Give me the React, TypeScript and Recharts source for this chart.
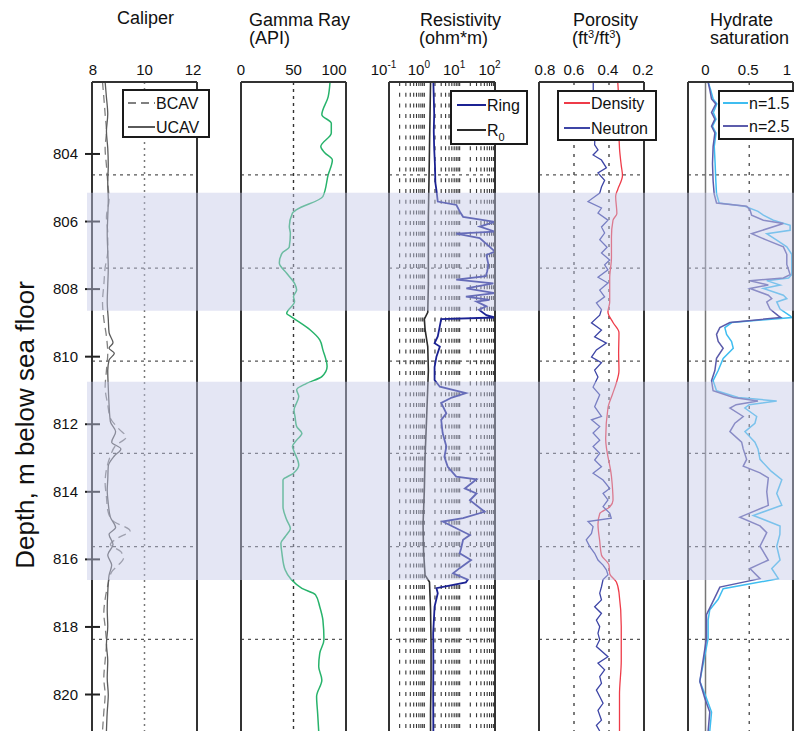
import React from 'react';
import { LineChart, Line, XAxis, YAxis, ReferenceLine, ReferenceArea, Legend } from 'recharts';

// ---------------- data ----------------
const depthTicks = [804, 806, 808, 810, 812, 814, 816, 818, 820];
const gridDepths = [804.62, 807.38, 810.13, 812.86, 815.62, 818.37];
const bandTop = [805.15, 810.74];
const bandBottom = [808.64, 816.61];

const caliperTicks = [8, 10, 12];
const gammaTicks = [0, 50, 100];
const resTicks = [0.1, 1, 10, 100];
const porTicks = [0.8, 0.6, 0.4, 0.2];
const hydTicks = [0, 0.5, 1];

const resMinorGrid = [0.2, 0.3, 0.4, 0.5, 0.6, 0.7, 0.8, 0.9, 1, 2, 3, 4, 5, 6, 7, 8, 9, 10, 20, 30, 40, 50, 60, 70, 80, 90];

// [depth m, value]
const bcav = [[801.87,8.4],[802.32,8.45],[802.82,8.5],[803.33,8.55],[803.83,8.5],[804.34,8.55],[804.85,8.6],[805.35,8.65],[805.86,8.55],[806.36,8.6],[806.87,8.6],[807.37,8.5],[807.88,8.45],[808.38,8.4],[808.89,8.45],[809.4,8.55],[809.9,8.6],[810.41,8.55],[810.91,8.5],[811.42,8.6],[811.82,8.7],[812.12,9.0],[812.38,9.3],[812.63,8.9],[812.94,8.7],[813.34,8.55],[813.74,8.5],[814.15,8.55],[814.55,8.6],[814.86,8.8],[815.16,9.45],[815.36,9.0],[815.56,8.7],[815.77,9.1],[815.97,9.2],[816.17,9.0],[816.37,8.75],[816.78,8.6],[817.18,8.5],[817.59,8.45],[817.99,8.5],[818.5,8.55],[819.0,8.5],[819.51,8.45],[820.01,8.5],[820.52,8.45],[821.08,8.4]];
const ucav = [[801.87,8.5],[802.32,8.55],[802.82,8.6],[803.33,8.55],[803.83,8.6],[804.34,8.62],[804.85,8.6],[805.35,8.62],[805.86,8.6],[806.36,8.58],[806.87,8.6],[807.37,8.62],[807.88,8.6],[808.38,8.58],[808.89,8.62],[809.29,8.65],[809.59,8.8],[809.75,8.65],[809.9,8.85],[810.1,8.65],[810.41,8.6],[810.91,8.62],[811.42,8.65],[811.92,8.7],[812.22,8.9],[812.53,8.75],[812.73,9.1],[812.94,8.85],[813.24,8.62],[813.64,8.6],[813.95,8.58],[814.35,8.62],[814.75,8.7],[815.06,8.9],[815.26,8.65],[815.56,8.8],[815.87,8.6],[816.17,8.75],[816.47,8.65],[816.98,8.6],[817.49,8.58],[817.99,8.6],[818.5,8.55],[819.0,8.6],[819.51,8.58],[820.01,8.62],[820.52,8.58],[821.08,8.55]];

const gammaRay = [[801.87,84.8],[802.31,83],[802.84,77],[803.09,86],[803.38,86],[803.78,76],[803.97,80],[804.18,87],[804.62,83],[805.26,78],[805.65,53],[805.75,49],[806.15,46],[806.35,47],[806.75,46],[806.94,39],[807.23,36.5],[807.53,43.5],[807.83,51],[808.03,53],[808.22,50],[808.37,51],[808.72,43.5],[808.82,48],[809.21,66],[809.5,75],[809.8,78],[810.29,82],[810.59,77],[810.79,62.5],[810.98,53],[811.18,55],[811.58,50.5],[811.77,51.4],[812.07,53],[812.27,58],[812.47,53],[812.66,49],[812.76,50],[813.21,55],[813.45,50],[813.65,40],[814.44,40],[814.83,43.5],[815.08,47],[815.33,42],[815.52,38],[815.82,39],[816.31,42],[816.6,48],[816.86,58],[817.05,71],[817.4,75],[817.8,78],[818.38,79],[818.78,75],[819.17,74],[819.57,77],[820.06,72],[820.56,73],[821.08,74]];

const ring = [[801.87,1.8],[802.32,1.85],[802.82,1.9],[803.33,1.85],[803.83,1.9],[804.34,2.0],[804.85,2.05],[805.07,2.2],[805.41,2.4],[805.51,8.1],[805.7,10],[805.86,12.5],[806.01,100],[806.15,37],[806.3,100],[806.36,8],[806.49,37],[806.75,71],[806.89,100],[806.99,57],[807.27,65],[807.47,60],[807.62,55],[807.72,8],[807.83,90],[807.98,15.5],[808.12,100],[808.22,15],[808.32,70],[808.37,30],[808.51,57],[808.61,35],[808.77,57],[808.84,100],[808.89,3.0],[809.09,2.75],[809.4,2.4],[809.6,1.95],[809.7,2.75],[810.0,2.2],[810.31,1.95],[810.69,1.95],[810.89,2.75],[811.08,15],[811.21,6],[811.37,3],[811.68,4.2],[811.87,3],[812.26,3.3],[812.66,4.2],[812.97,3.7],[813.26,4.6],[813.55,8],[813.63,30],[813.9,14],[814.05,30],[814.25,19.5],[814.59,51],[814.78,12.5],[814.88,3.3],[815.08,8],[815.28,19.5],[815.42,12.5],[815.67,11],[815.82,10],[816.02,21],[816.26,10],[816.41,6.5],[816.6,17],[816.68,15],[816.85,2.2],[817.0,2.4],[817.4,1.95],[818.19,1.78],[819.0,1.8],[820.01,1.78],[821.08,1.8]];
const r0 = [[801.87,1.5],[802.82,1.45],[803.83,1.4],[804.85,1.35],[805.86,1.3],[806.87,1.3],[807.88,1.3],[808.69,1.25],[808.89,1.0],[809.19,1.05],[809.7,1.25],[810.41,1.3],[810.91,1.25],[811.92,1.15],[812.94,1.05],[813.95,1.0],[814.96,0.92],[815.76,0.95],[816.47,1.05],[816.67,1.4],[817.49,1.5],[818.5,1.55],[819.51,1.55],[820.52,1.5],[821.08,1.5]];

const density = [[801.87,0.35],[802.32,0.345],[802.82,0.343],[803.33,0.343],[803.83,0.34],[804.34,0.33],[804.64,0.323],[805.05,0.35],[805.25,0.362],[805.76,0.355],[805.96,0.377],[806.46,0.386],[807.07,0.386],[807.67,0.396],[808.38,0.396],[808.68,0.406],[808.99,0.377],[809.29,0.343],[809.9,0.345],[810.41,0.343],[810.81,0.36],[811.11,0.38],[811.52,0.406],[812.43,0.419],[813.54,0.386],[814.25,0.377],[814.45,0.396],[814.65,0.453],[814.96,0.463],[815.46,0.453],[815.87,0.443],[816.17,0.4],[816.42,0.396],[816.67,0.358],[816.98,0.343],[817.99,0.33],[819.0,0.33],[820.01,0.34],[821.08,0.34]];
const neutron = [[801.87,0.49],[802.12,0.49],[802.42,0.47],[802.72,0.49],[803.03,0.46],[803.33,0.48],[803.73,0.482],[803.88,0.463],[804.03,0.491],[804.18,0.443],[804.41,0.415],[804.56,0.463],[804.78,0.425],[804.98,0.443],[805.16,0.453],[805.41,0.52],[805.6,0.443],[805.75,0.463],[805.96,0.406],[806.16,0.443],[806.34,0.425],[806.54,0.453],[806.76,0.411],[806.93,0.443],[807.14,0.396],[807.28,0.425],[807.43,0.406],[807.65,0.463],[807.82,0.406],[808.03,0.453],[808.23,0.425],[808.41,0.472],[808.61,0.443],[808.77,0.453],[809.0,0.5],[809.21,0.443],[809.41,0.482],[809.6,0.415],[809.8,0.472],[810.01,0.5],[810.18,0.443],[810.4,0.482],[810.6,0.463],[810.9,0.491],[811.13,0.453],[811.48,0.482],[811.77,0.443],[811.87,0.5],[812.07,0.453],[812.26,0.491],[812.47,0.453],[812.66,0.491],[812.86,0.453],[813.06,0.482],[813.26,0.443],[813.45,0.491],[813.65,0.434],[813.9,0.396],[814.05,0.434],[814.24,0.406],[814.44,0.434],[814.63,0.396],[814.78,0.387],[814.88,0.52],[815.03,0.491],[815.23,0.5],[815.42,0.53],[815.62,0.51],[815.82,0.482],[816.02,0.463],[816.17,0.434],[816.31,0.415],[816.46,0.406],[816.6,0.434],[816.81,0.443],[817.0,0.453],[817.2,0.443],[817.4,0.482],[817.6,0.443],[817.8,0.472],[817.99,0.453],[818.19,0.463],[818.38,0.453],[818.58,0.472],[818.88,0.406],[819.07,0.463],[819.27,0.425],[819.47,0.453],[819.67,0.443],[819.87,0.472],[820.06,0.453],[820.26,0.434],[820.47,0.463],[820.76,0.443],[820.91,0.472],[821.08,0.453]];

const hydN15 = [[801.87,0.03],[802.11,0.06],[802.37,0.087],[802.52,0.13],[802.77,0.09],[802.97,0.12],[803.18,0.08],[803.38,0.12],[803.78,0.1],[804.29,0.11],[804.8,0.118],[805.18,0.126],[805.45,0.156],[805.55,0.45],[805.7,0.6],[805.81,0.661],[805.96,0.775],[806.11,0.967],[806.26,0.967],[806.36,0.7],[806.55,0.814],[806.75,0.929],[806.97,0.986],[807.27,0.986],[807.57,0.986],[807.67,0.95],[807.75,0.7],[807.88,0.852],[807.98,0.661],[808.18,0.89],[808.28,0.929],[808.38,0.814],[808.59,0.852],[808.79,0.967],[808.84,0.986],[808.99,0.3],[809.14,0.221],[809.34,0.241],[809.55,0.298],[809.75,0.317],[810.05,0.202],[810.41,0.145],[810.71,0.087],[811.01,0.126],[811.21,0.374],[811.31,0.814],[811.42,0.5],[811.52,0.45],[811.77,0.585],[811.97,0.565],[812.22,0.451],[812.53,0.565],[812.73,0.6],[813.04,0.623],[813.39,0.75],[813.64,0.872],[814.05,0.814],[814.4,0.872],[814.7,0.546],[815.01,0.852],[815.26,0.85],[815.61,0.814],[816.02,0.852],[816.27,0.757],[816.57,0.833],[816.87,0.202],[817.18,0.145],[817.49,0.049],[817.79,0.03],[818.34,0.03],[819.61,-0.065],[820.11,0.011],[820.52,0.069],[821.08,0.049]];
const hydN25 = [[801.87,0.03],[802.11,0.05],[802.37,0.069],[802.52,0.118],[802.77,0.069],[802.97,0.107],[803.18,0.069],[803.38,0.107],[803.78,0.087],[804.29,0.08],[804.8,0.087],[805.18,0.099],[805.45,0.126],[805.55,0.47],[805.65,0.508],[805.81,0.527],[805.96,0.661],[806.06,0.89],[806.36,0.527],[806.55,0.7],[806.75,0.89],[806.97,0.929],[807.27,0.929],[807.57,0.967],[807.67,0.89],[807.75,0.508],[807.88,0.718],[807.98,0.508],[808.18,0.718],[808.28,0.757],[808.38,0.7],[808.59,0.737],[808.79,0.833],[808.84,0.86],[808.99,0.279],[809.14,0.164],[809.34,0.126],[809.55,0.145],[809.75,0.202],[810.05,0.126],[810.41,0.107],[810.71,0.069],[811.01,0.087],[811.21,0.32],[811.31,0.6],[811.42,0.35],[811.52,0.28],[811.77,0.431],[811.97,0.336],[812.22,0.279],[812.53,0.413],[812.73,0.431],[813.04,0.47],[813.24,0.431],[813.44,0.623],[813.59,0.718],[814.0,0.7],[814.4,0.718],[814.75,0.393],[815.01,0.623],[815.21,0.7],[815.61,0.623],[816.02,0.718],[816.27,0.508],[816.57,0.623],[816.82,0.164],[817.03,0.126],[817.33,0.069],[817.64,0.011],[818.34,0.011],[819.61,-0.065],[820.11,-0.008],[820.52,0.049],[821.08,0.03]];

// ---------------- layout / style ----------------
const FONT = "'Liberation Sans', Arial, Helvetica, sans-serif";
const W = 794;
const H = 731;
const PLOT_TOP = 82;
const XAXIS_H = 30;
const DEPTH_DOMAIN: [number, number] = [801.87, 821.08];

const toRows = (arr: number[][]) => arr.map(([d, v]) => ({ depth: d, v }));
const bandRows = bandTop.map((t, i) => ({ depth: t, end: bandBottom[i], v: 0 }));

const TopTick = (props: any) => {
  const { x, y, payload, index, dxs, kind } = props;
  const v = payload.value;
  const dx = (dxs && dxs[index]) || 0;
  if (kind === 'log') {
    const e = Math.round(Math.log10(v));
    return (
      <text x={x + dx} y={y} textAnchor="middle" fontSize={15} fontFamily={FONT} fill="#111">
        <tspan>10</tspan>
        <tspan dy={-7} fontSize={10}>{String(e)}</tspan>
      </text>
    );
  }
  const label = kind === 'fixed1' ? v.toFixed(1) : String(v);
  return (
    <text x={x + dx} y={y} textAnchor="middle" fontSize={15} fontFamily={FONT} fill="#111">{label}</text>
  );
};

const DepthTick = (props: any) => {
  const { x, y, payload } = props;
  return (
    <g>
      <line x1={x - 7} x2={x + 8} y1={y} y2={y} stroke="#222" strokeWidth={2} />
      <text x={x - 14} y={y + 5} textAnchor="end" fontSize={15} fontFamily={FONT} fill="#111">{payload.value}</text>
    </g>
  );
};

type TitleLine = { text: React.ReactNode; x: number; y: number };
const makeTitle = (lines: TitleLine[]) => () => (
  <g>
    {lines.map((l, i) => (
      <text key={i} x={l.x} y={l.y} fontSize={18} fontFamily={FONT} fill="#111">{l.text}</text>
    ))}
  </g>
);

const legendName = (n: string) => {
  if (n === 'R0') return (<><tspan>R</tspan><tspan dy={5} fontSize={11}>0</tspan></>);
  return n;
};

const makeLegend = (w: number, h: number, rows: number[], lx0: number, lx1: number) => (props: any) => {
  const items = props.payload || [];
  return (
    <svg width={w} height={h} style={{ display: 'block', overflow: 'visible' }}>
      <rect x={1} y={1} width={w - 2} height={h - 2} fill="#fff" stroke="#1a1a1a" strokeWidth={2} />
      {items.map((e: any, i: number) => (
        <g key={i}>
          <line x1={lx0} x2={lx1} y1={rows[i]} y2={rows[i]} stroke={e.color} strokeWidth={2}
            strokeDasharray={e.payload && e.payload.strokeDasharray} />
          <text x={lx1 + 1} y={rows[i] + 6} fontSize={16} fontFamily={FONT} fill="#111">{legendName(String(e.value))}</text>
        </g>
      ))}
    </svg>
  );
};

type Series = { name: string; rows: { depth: number; v: number }[]; color: string; width: number; dash?: string; curve: 'linear' | 'monotone' };
type VLine = { v: number; stroke: string; dash?: string; width: number };
type LegendBox = { left: number; top: number; w: number; h: number; rows: number[]; lx0: number; lx1: number };

function Track(p: {
  left: number; right: number; domain: [number, number]; log?: boolean; reversed?: boolean;
  ticks: number[]; tickDx: number[]; kind: string; vLines: VLine[]; series: Series[];
  legend?: LegendBox; title: TitleLine[]; showDepth?: boolean;
}) {
  return (
    <div style={{ position: 'absolute', left: 0, top: 0 }}>
      <LineChart width={W} height={H} layout="vertical"
        margin={{ top: PLOT_TOP - XAXIS_H, left: p.showDepth ? 0 : p.left, right: W - p.right, bottom: 0 }}>
        <XAxis type="number" orientation="top" domain={p.domain} scale={p.log ? 'log' : 'auto'}
          reversed={!!p.reversed} allowDataOverflow ticks={p.ticks} interval={0} height={XAXIS_H}
          tickSize={0} tickMargin={7} tickLine={false} axisLine={{ stroke: '#333', strokeWidth: 2 }}
          tick={(tp: any) => <TopTick {...tp} dxs={p.tickDx} kind={p.kind} />}
          label={makeTitle(p.title)} />
        {p.showDepth ? (
          <YAxis type="number" dataKey="depth" domain={DEPTH_DOMAIN} allowDataOverflow ticks={depthTicks}
            interval={0} width={p.left} tickSize={0} tickMargin={0} axisLine={false} tickLine={false}
            tick={<DepthTick />}
            label={() => (
              <text transform="translate(34,425) rotate(-90)" textAnchor="middle" fontSize={26}
                fontFamily={FONT} fill="#111">Depth, m below sea floor</text>
            )} />
        ) : (
          <YAxis type="number" dataKey="depth" domain={DEPTH_DOMAIN} allowDataOverflow hide />
        )}
        {p.vLines.map((g, i) => (
          <ReferenceLine key={'vg' + i} x={g.v} stroke={g.stroke} strokeWidth={g.width} strokeDasharray={g.dash} />
        ))}
        {gridDepths.map((d) => (
          <ReferenceLine key={'hg' + d} y={d} stroke="#555" strokeWidth={1.2} strokeDasharray="3 4" />
        ))}
        {p.series.map((s) => (
          <Line key={s.name} name={s.name} data={s.rows} dataKey="v" type={s.curve} stroke={s.color}
            strokeWidth={s.width} strokeDasharray={s.dash} dot={false} activeDot={false}
            isAnimationActive={false} />
        ))}
        <ReferenceLine x={p.domain[0]} stroke="#333" strokeWidth={2} />
        <ReferenceLine x={p.domain[1]} stroke="#333" strokeWidth={2} />
        {p.legend ? (
          <Legend layout="horizontal" verticalAlign="middle" align="center" itemSorter={() => 0}
            wrapperStyle={{ left: p.legend.left, top: p.legend.top, width: p.legend.w, height: p.legend.h }}
            content={makeLegend(p.legend.w, p.legend.h, p.legend.rows, p.legend.lx0, p.legend.lx1)} />
        ) : null}
      </LineChart>
    </div>
  );
}

export default function App() {
  return (
    <div style={{ position: 'absolute', left: 0, top: 0, width: W, height: H, overflow: 'hidden', background: '#fff' }}>
      <Track left={92} right={197} domain={[8, 12]} ticks={caliperTicks} tickDx={[1, 0, -4]} kind="int"
        showDepth
        vLines={[{ v: 10, stroke: '#777', dash: '2 4', width: 1.5 }]}
        series={[
          { name: 'BCAV', rows: toRows(bcav), color: '#808080', width: 1.3, dash: '8 5', curve: 'monotone' },
          { name: 'UCAV', rows: toRows(ucav), color: '#5a5a5a', width: 1.3, curve: 'monotone' },
        ]}
        legend={{ left: 122, top: 89, w: 88, h: 49, rows: [14, 38], lx0: 6, lx1: 33 }}
        title={[{ text: 'Caliper', x: 117, y: 24 }]} />
      <Track left={241} right={346} domain={[0, 100]} ticks={gammaTicks} tickDx={[0, 0, -12]} kind="int"
        vLines={[{ v: 50, stroke: '#333', dash: '3 4', width: 1.4 }]}
        series={[{ name: 'GR', rows: toRows(gammaRay), color: '#27b36b', width: 1.5, curve: 'monotone' }]}
        title={[{ text: 'Gamma Ray', x: 249, y: 25.5 }, { text: '(API)', x: 249, y: 44 }]} />
      <Track left={389} right={495} domain={[0.1, 100]} log ticks={resTicks} tickDx={[-5.5, -5.5, -5.5, -5.5]} kind="log"
        vLines={resMinorGrid.map((v) => ({ v, stroke: '#333', dash: '4 6.7', width: 1.1 }))}
        series={[
          { name: 'Ring', rows: toRows(ring), color: '#1b2293', width: 1.8, curve: 'linear' },
          { name: 'R0', rows: toRows(r0), color: '#2b2b2b', width: 1.6, curve: 'linear' },
        ]}
        legend={{ left: 450, top: 90, w: 78, h: 55, rows: [15, 40], lx0: 7, lx1: 36 }}
        title={[{ text: 'Resistivity', x: 420, y: 25.5 }, { text: '(ohm*m)', x: 419, y: 44 }]} />
      <Track left={539} right={644} domain={[0.2, 0.8]} reversed ticks={porTicks} tickDx={[6, 0, -1, -1]} kind="fixed1"
        vLines={[{ v: 0.6, stroke: '#444', dash: '3 6', width: 1.4 }, { v: 0.4, stroke: '#444', dash: '3 6', width: 1.4 }]}
        series={[
          { name: 'Density', rows: toRows(density), color: '#ee3b48', width: 1.3, curve: 'monotone' },
          { name: 'Neutron', rows: toRows(neutron), color: '#3d45a6', width: 1.3, curve: 'linear' },
        ]}
        legend={{ left: 557, top: 90, w: 100, h: 51, rows: [13, 38], lx0: 7, lx1: 33 }}
        title={[
          { text: 'Porosity', x: 573, y: 25.5 },
          { text: (<>{'(ft'}<tspan baselineShift="super" fontSize={11}>3</tspan>{'/ft'}<tspan baselineShift="super" fontSize={11}>3</tspan>{')'}</>), x: 572, y: 44 },
        ]} />
      <Track left={688} right={793} domain={[-0.2, 1]} ticks={hydTicks} tickDx={[0, -1, -6]} kind="int"
        vLines={[{ v: 0, stroke: '#777', width: 1.5 }, { v: 0.5, stroke: '#555', dash: '3 6', width: 1.4 }]}
        series={[
          { name: 'n=1.5', rows: toRows(hydN15), color: '#3fbdf0', width: 1.5, curve: 'linear' },
          { name: 'n=2.5', rows: toRows(hydN25), color: '#5c5cab', width: 1.5, curve: 'linear' },
        ]}
        legend={{ left: 718, top: 90, w: 85, h: 50, rows: [13, 36], lx0: 5, lx1: 30 }}
        title={[{ text: 'Hydrate', x: 710, y: 25.5 }, { text: 'saturation', x: 710, y: 44 }]} />
      {/* hydrate-bearing intervals overlay */}
      <div style={{ position: 'absolute', left: 0, top: 0 }}>
        <LineChart width={W} height={H} layout="vertical" data={bandRows}
          margin={{ top: PLOT_TOP, left: 87, right: 0, bottom: 0 }}>
          <XAxis type="number" dataKey="v" domain={[0, 1]} allowDataOverflow hide />
          <YAxis type="number" dataKey="depth" domain={DEPTH_DOMAIN} allowDataOverflow hide />
          <Line dataKey="v" stroke="none" dot={false} activeDot={false} isAnimationActive={false} legendType="none" />
          {bandRows.map((b, i) => (
            <ReferenceArea key={'band' + i} x1={0} x2={1} y1={b.depth} y2={b.end} fill="#c3c8e6" fillOpacity={0.45}
              stroke="none" ifOverflow="visible" />
          ))}
        </LineChart>
      </div>
    </div>
  );
}
